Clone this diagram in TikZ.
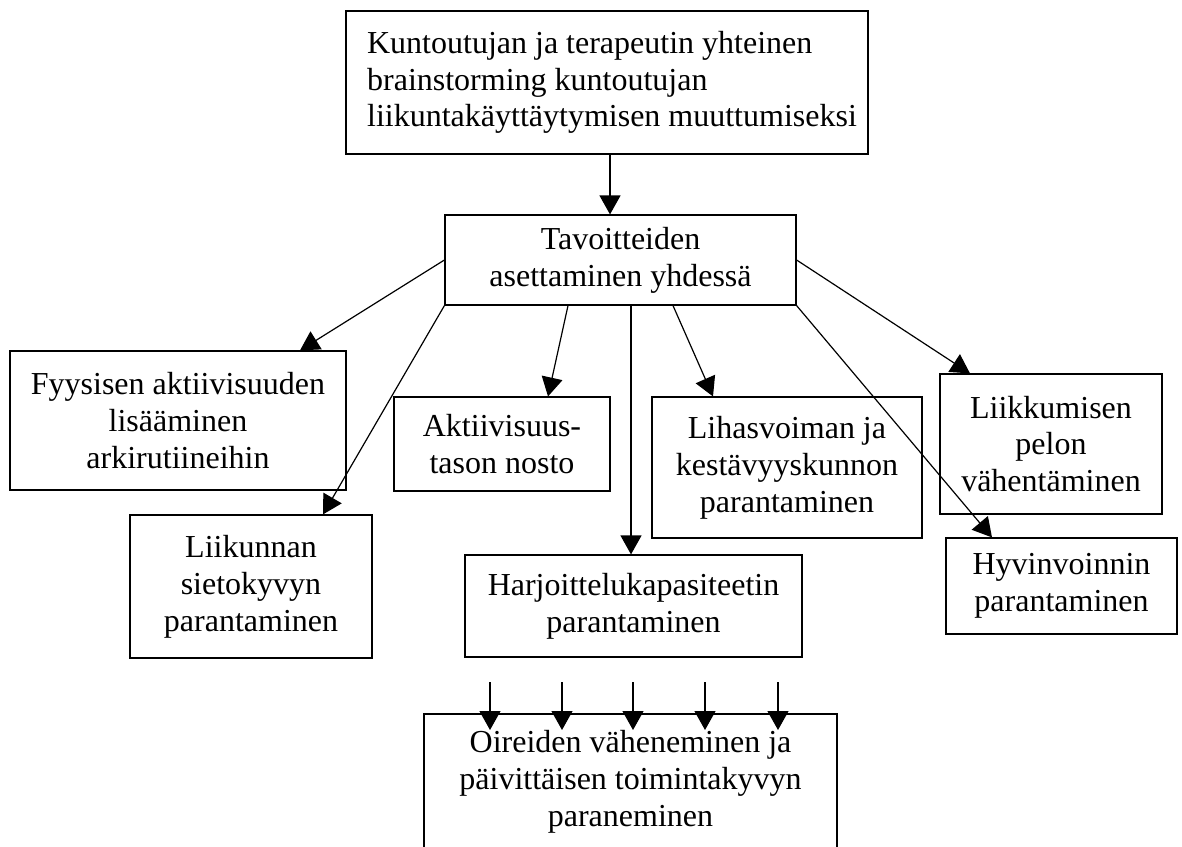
\documentclass[tikz,border=0pt]{standalone}
\usepackage{fontspec}
\setmainfont{Liberation Serif}
\usetikzlibrary{arrows.meta}
\begin{document}
\begin{tikzpicture}[x=1pt,y=-1pt,
  box/.style={draw,line width=1.2pt,inner sep=0pt,align=center,font=\fontsize{32}{36.8}\selectfont},
  arr/.style={draw,line width=1.2pt,-{Triangle[length=19pt,width=21pt]}}]
\useasboundingbox (0,0) rectangle (1182,846);
\clip (0,0) rectangle (1182,846);
\node[box,align=left,minimum width=522pt,minimum height=143pt] (top) at (607,82.5)
  {\hspace*{10pt}Kuntoutujan ja terapeutin yhteinen\\\hspace*{10pt}brainstorming kuntoutujan\\\hspace*{10pt}liikuntakäyttäytymisen muuttumiseksi};
\node[box,minimum width=351pt,minimum height=90pt] (tav) at (620.5,260)
  {Tavoitteiden\\asettaminen yhdessä};
\node[box,minimum width=336pt,minimum height=139pt] (fyy) at (178,420.5)
  {Fyysisen aktiivisuuden\\lisääminen\\arkirutiineihin};
\node[box,minimum width=242pt,minimum height=143pt] (liik) at (251,586.5)
  {Liikunnan\\sietokyvyn\\parantaminen};
\node[box,minimum width=216pt,minimum height=94pt] (akt) at (502,444)
  {Aktiivisuus-\\tason nosto};
\node[box,minimum width=337pt,minimum height=102pt] (har) at (633.5,606)
  {Harjoittelukapasiteetin\\parantaminen};
\node[box,minimum width=270pt,minimum height=141pt] (lih) at (787,467.5)
  {Lihasvoiman ja\\kestävyyskunnon\\parantaminen};
\node[box,minimum width=222pt,minimum height=140pt] (lik) at (1051,444)
  {Liikkumisen\\pelon\\vähentäminen};
\node[box,minimum width=231pt,minimum height=96pt] (hyv) at (1061.5,586)
  {Hyvinvoinnin\\parantaminen};
\node[box,minimum width=413pt,minimum height=136pt] (bot) at (630.5,782)
  {Oireiden väheneminen ja\\päivittäisen toimintakyvyn\\paraneminen};
\draw[arr] ([xshift=3pt]top.south) -- ([xshift=-10.5pt]tav.north);
\draw[arr] (tav.west) -- ([xshift=122pt]fyy.north);
\draw[arr] (tav.south west) -- ([xshift=72pt]liik.north);
\draw[arr] ([xshift=-52.5pt]tav.south) -- ([xshift=46pt]akt.north);
\draw[arr] ([xshift=10.5pt]tav.south) -- ([xshift=-2.5pt]har.north);
\draw[arr] ([xshift=52.5pt]tav.south) -- ([xshift=-74pt]lih.north);
\draw[arr] (tav.east) -- ([xshift=-81pt]lik.north);
\draw[arr] (tav.south east) -- ([xshift=-69.5pt]hyv.north);
\foreach \i/\x in {1/490,2/562,3/633,4/705,5/778}{
  \coordinate (a\i) at (\x,682);
  \coordinate (b\i) at (\x,730);
  \draw[arr] (a\i) -- (b\i);
}
\end{tikzpicture}
\end{document}
